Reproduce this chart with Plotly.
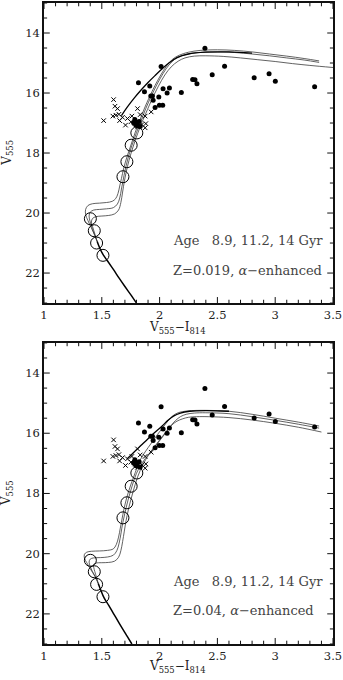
import plotly.graph_objects as go
from plotly.subplots import make_subplots

# ---------------- observed stars (same in both panels) ----------------
dot_x = [2.392, 2.013, 1.817, 1.915, 1.869, 2.030, 2.085, 2.065, 1.924, 1.938, 1.944, 1.993,
         1.998, 2.027, 1.961, 2.188, 2.286, 2.306, 2.323, 2.455, 2.562, 2.818, 2.947, 3.001,
         3.341, 1.786, 1.803, 1.823, 1.812, 1.832, 1.794, 1.775]
dot_v = [14.51, 15.12, 15.66, 15.77, 15.96, 15.86, 15.83, 16.00, 16.10, 16.10, 16.24, 16.13,
         16.41, 16.41, 16.48, 15.98, 15.55, 15.56, 15.69, 15.39, 15.11, 15.49, 15.36, 15.61,
         15.79, 16.88, 16.99, 16.95, 17.10, 17.12, 17.07, 16.99]

cross_x = [1.516, 1.602, 1.614, 1.636, 1.596, 1.622, 1.648, 1.654, 1.679, 1.705, 1.722,
           1.760, 1.809, 1.832, 1.875, 1.927, 1.881, 1.875, 1.752, 1.786, 1.809, 1.847]
cross_v = [16.92, 16.22, 16.44, 16.52, 16.77, 16.74, 16.71, 16.92, 16.81, 17.07, 16.85,
           16.77, 16.52, 16.72, 16.77, 16.63, 17.02, 17.16, 16.96, 17.02, 17.13, 17.05]

circ_x = [1.803, 1.754, 1.717, 1.683, 1.401, 1.435, 1.455, 1.510]
circ_v_top = [17.33, 17.74, 18.29, 18.79, 20.19, 20.59, 21.00, 21.41]
circ_v_bot = [17.32, 17.76, 18.31, 18.81, 20.22, 20.60, 21.02, 21.43]

# ---------------- top panel isochrones: Z=0.019 ----------------
ms1_x = [1.80, 1.75, 1.70, 1.65, 1.60, 1.55, 1.51, 1.48, 1.46]
ms1_v = [23.0, 22.72, 22.45, 22.17, 21.88, 21.60, 21.38, 21.15, 20.95]

t_a_x = [1.46, 1.44, 1.41, 1.38, 1.36, 1.36, 1.38, 1.42, 1.48, 1.54, 1.59, 1.62, 1.64, 1.655,
         1.67, 1.69, 1.72, 1.755, 1.79, 1.83, 1.87, 1.91, 1.96, 2.01, 2.06, 2.11, 2.17, 2.25,
         2.35, 2.5, 2.65, 2.8, 2.95, 3.1, 3.25, 3.38]
t_a_v = [20.95, 20.75, 20.5, 20.25, 20.05, 19.88, 19.75, 19.69, 19.67, 19.65, 19.61, 19.52,
         19.35, 19.1, 18.85, 18.5, 18.1, 17.7, 17.3, 16.9, 16.5, 16.15, 15.75, 15.4, 15.1,
         14.88, 14.74, 14.64, 14.58, 14.56, 14.58, 14.63, 14.70, 14.77, 14.85, 14.93]

t_b_x = [1.46, 1.44, 1.42, 1.40, 1.39, 1.40, 1.43, 1.48, 1.54, 1.60, 1.635, 1.655, 1.67,
         1.685, 1.70, 1.725, 1.76, 1.80, 1.84, 1.88, 1.925, 1.975, 2.03, 2.08, 2.13, 2.19,
         2.27, 2.37, 2.5, 2.65, 2.8, 2.95, 3.1, 3.25, 3.38]
t_b_v = [20.95, 20.75, 20.55, 20.3, 20.1, 19.97, 19.9, 19.88, 19.86, 19.82, 19.7, 19.5, 19.2,
         18.9, 18.6, 18.2, 17.75, 17.32, 16.92, 16.52, 16.12, 15.73, 15.35, 15.07, 14.88,
         14.76, 14.68, 14.64, 14.63, 14.65, 14.70, 14.76, 14.83, 14.90, 14.98]

t_c_x = [1.46, 1.44, 1.42, 1.41, 1.42, 1.45, 1.50, 1.56, 1.61, 1.645, 1.665, 1.68, 1.695,
         1.71, 1.735, 1.77, 1.81, 1.85, 1.895, 1.94, 1.99, 2.045, 2.10, 2.16, 2.22, 2.3, 2.4,
         2.55, 2.7, 2.85, 3.0, 3.15, 3.3, 3.5]
t_c_v = [20.95, 20.7, 20.45, 20.3, 20.18, 20.12, 20.1, 20.08, 20.03, 19.9, 19.65, 19.3,
         18.95, 18.65, 18.25, 17.8, 17.35, 16.95, 16.55, 16.15, 15.77, 15.4, 15.13, 14.94,
         14.83, 14.77, 14.76, 14.78, 14.83, 14.89, 14.95, 15.02, 15.08, 15.15]

t_agb_x = [1.67, 1.72, 1.78, 1.84, 1.90, 1.96, 2.02, 2.08, 2.15, 2.25, 2.4, 2.6, 2.8]
t_agb_v = [16.75, 16.47, 16.17, 15.9, 15.65, 15.42, 15.2, 15.0, 14.82, 14.70, 14.64, 14.63, 14.67]

# ---------------- bottom panel isochrones: Z=0.04 ----------------
ms2_x = [1.76, 1.72, 1.68, 1.64, 1.60, 1.56, 1.52, 1.49, 1.47]
ms2_v = [23.0, 22.75, 22.5, 22.24, 21.98, 21.72, 21.47, 21.2, 21.0]

b_a_x = [1.47, 1.44, 1.40, 1.37, 1.35, 1.35, 1.37, 1.41, 1.48, 1.55, 1.60, 1.625, 1.645,
         1.66, 1.675, 1.69, 1.715, 1.75, 1.79, 1.83, 1.875, 1.93, 1.98, 2.03, 2.075, 2.115,
         2.16, 2.24, 2.4, 2.6, 2.8, 3.0, 3.2, 3.38]
b_a_v = [21.0, 20.75, 20.5, 20.3, 20.15, 20.02, 19.95, 19.92, 19.91, 19.89, 19.84, 19.7,
         19.45, 19.15, 18.85, 18.55, 18.15, 17.72, 17.3, 16.9, 16.62, 16.32, 16.05, 15.8,
         15.58, 15.42, 15.32, 15.26, 15.24, 15.27, 15.37, 15.5, 15.63, 15.76]

b_b_x = [1.47, 1.45, 1.42, 1.40, 1.39, 1.40, 1.43, 1.49, 1.55, 1.60, 1.63, 1.65, 1.665,
         1.68, 1.70, 1.725, 1.76, 1.80, 1.85, 1.905, 1.955, 2.005, 2.05, 2.095, 2.14, 2.18,
         2.23, 2.3, 2.4, 2.6, 2.8, 3.0, 3.2, 3.38]
b_b_v = [21.0, 20.8, 20.6, 20.42, 20.28, 20.18, 20.14, 20.13, 20.11, 20.05, 19.9, 19.65,
         19.35, 19.0, 18.65, 18.25, 17.78, 17.33, 16.98, 16.7, 16.45, 16.2, 15.98, 15.76,
         15.57, 15.45, 15.37, 15.33, 15.32, 15.35, 15.45, 15.57, 15.70, 15.83]

b_c_x = [1.47, 1.455, 1.44, 1.43, 1.43, 1.45, 1.50, 1.56, 1.61, 1.645, 1.665, 1.68, 1.695,
         1.71, 1.735, 1.77, 1.81, 1.855, 1.905, 1.96, 2.01, 2.06, 2.105, 2.15, 2.2, 2.25,
         2.32, 2.42, 2.6, 2.8, 3.0, 3.2, 3.4]
b_c_v = [21.0, 20.8, 20.6, 20.45, 20.35, 20.31, 20.3, 20.29, 20.25, 20.12, 19.9, 19.6,
         19.25, 18.9, 18.45, 17.95, 17.45, 17.05, 16.72, 16.45, 16.2, 15.95, 15.73, 15.6,
         15.52, 15.47, 15.45, 15.45, 15.48, 15.56, 15.67, 15.80, 15.96]

b_agb_x = [1.72, 1.78, 1.84, 1.90, 1.96, 2.02, 2.07, 2.12, 2.18, 2.26, 2.4, 2.6]
b_agb_v = [16.85, 16.62, 16.4, 16.18, 15.97, 15.77, 15.58, 15.43, 15.33, 15.27, 15.25, 15.27]

x_range = [1.0, 3.5]
y_range = [23.0, 13.0]
x_ticks = [1, 1.5, 2, 2.5, 3, 3.5]
x_labels = ["1", "1.5", "2", "2.5", "3", "3.5"]
y_ticks = [14, 16, 18, 20, 22]
y_labels = ["14", "16", "18", "20", "22"]
x_minor_step = 0.1
y_minor_step = 0.5

label_age = "Age   8.9, 11.2, 14 Gyr"
label_z_top = "Z=0.019, <i>α</i>−enhanced"
label_z_bot = "Z=0.04, <i>α</i>−enhanced"

# ---------------- figure ----------------
fig = make_subplots(rows=2, cols=1, vertical_spacing=0.0)

ISO = dict(color="#3a3a3a", width=0.8)
THICK = dict(color="black", width=1.5)

panels = [
    (1, ms1_x, ms1_v, [(t_a_x, t_a_v), (t_b_x, t_b_v), (t_c_x, t_c_v)], (t_agb_x, t_agb_v), circ_v_top),
    (2, ms2_x, ms2_v, [(b_a_x, b_a_v), (b_b_x, b_b_v), (b_c_x, b_c_v)], (b_agb_x, b_agb_v), circ_v_bot),
]

for row, msx, msv, isos, agb, cv in panels:
    for ix, iv in isos:
        fig.add_trace(go.Scatter(x=ix, y=iv, mode="lines", line=ISO, line_shape="spline",
                                 hoverinfo="skip"), row=row, col=1)
    fig.add_trace(go.Scatter(x=agb[0], y=agb[1], mode="lines", line=dict(color="black", width=1.3),
                             line_shape="spline"), row=row, col=1)
    fig.add_trace(go.Scatter(x=msx, y=msv, mode="lines", line=THICK, line_shape="spline"),
                  row=row, col=1)
    fig.add_trace(go.Scatter(x=cross_x, y=cross_v, mode="markers",
                             marker=dict(symbol="x-thin", size=4.5, line=dict(color="black", width=1))),
                  row=row, col=1)
    fig.add_trace(go.Scatter(x=dot_x, y=dot_v, mode="markers",
                             marker=dict(symbol="circle", size=5, color="black")), row=row, col=1)
    fig.add_trace(go.Scatter(x=circ_x, y=cv, mode="markers",
                             marker=dict(symbol="circle-open", size=12, color="black",
                                         line=dict(color="black", width=1))), row=row, col=1)

tickfont = dict(family="DejaVu Serif", size=11.5, color="#222")
base = dict(showgrid=False, zeroline=False, showline=True, linecolor="#111", linewidth=1.5,
            mirror=True, ticks="", tickfont=tickfont)

fig.update_layout(
    width=343, height=680, showlegend=False,
    margin=dict(l=44, r=9, t=1, b=36),
    plot_bgcolor="white", paper_bgcolor="white",
    xaxis=dict(domain=[0, 1], range=x_range, tickvals=x_ticks, ticktext=x_labels,
               ticklabeloverflow="allow", **base),
    yaxis=dict(domain=[0.5319, 1.0], range=y_range, tickvals=y_ticks, ticktext=y_labels, **base),
    xaxis2=dict(domain=[0, 1], range=x_range, tickvals=x_ticks, ticktext=x_labels,
                ticklabeloverflow="allow", **base),
    yaxis2=dict(domain=[0.0, 0.4697], range=y_range, tickvals=y_ticks, ticktext=y_labels, **base),
)

# ticks on all four sides, built from the tick arrays, drawn as line traces
n_xminor = int(round((x_range[1] - x_range[0]) / x_minor_step))
n_yminor = int(round((y_range[0] - y_range[1]) / y_minor_step))
x_minor_vals = [round(x_range[0] + k * x_minor_step, 3) for k in range(n_xminor + 1)]
y_minor_vals = [round(y_range[1] + k * y_minor_step, 3) for k in range(n_yminor + 1)]
TICK_V_MAJOR, TICK_V_MINOR = 0.2, 0.11     # vertical tick lengths, in V units (~6 / 3 px)
TICK_C_MAJOR, TICK_C_MINOR = 0.05, 0.027   # horizontal tick lengths, in colour units (~6 / 3 px)
for row in (1, 2):
    tx, ty = [], []
    for xv in x_minor_vals:
        major = any(abs(xv - t) < 1e-6 for t in x_ticks)
        ln = TICK_V_MAJOR if major else TICK_V_MINOR
        tx += [xv, xv, None, xv, xv, None]
        ty += [y_range[0], y_range[0] - ln, None, y_range[1], y_range[1] + ln, None]
    for yv in y_minor_vals:
        major = any(abs(yv - t) < 1e-6 for t in y_ticks)
        ln = TICK_C_MAJOR if major else TICK_C_MINOR
        tx += [x_range[0], x_range[0] + ln, None, x_range[1], x_range[1] - ln, None]
        ty += [yv, yv, None, yv, yv, None]
    fig.add_trace(go.Scatter(x=tx, y=ty, mode="lines", line=dict(color="#111", width=1),
                             hoverinfo="skip", cliponaxis=False), row=row, col=1)

ann_font = dict(family="DejaVu Serif", size=13, color="#444")
for xr, yr, zl in (("x", "y", label_z_top), ("x2", "y2", label_z_bot)):
    fig.add_annotation(x=2.1, y=20.92, xref=xr, yref=yr, text=label_age, showarrow=False,
                       xanchor="left", yanchor="middle", font=ann_font)
    fig.add_annotation(x=2.1, y=21.9, xref=xr, yref=yr, text=zl, showarrow=False,
                       xanchor="left", yanchor="middle", font=ann_font)

title_font = dict(family="DejaVu Serif", size=12, color="#222")
for py in (327, 667):
    fig.add_annotation(x=(177 - 44) / 290, y=(644 - py) / 643, xref="paper", yref="paper",
                       text="V<sub>555</sub>−I<sub>814</sub>", showarrow=False,
                       xanchor="center", yanchor="middle", font=title_font)
for py in (151, 492.5):
    fig.add_annotation(x=(7 - 44) / 290, y=(644 - py) / 643, xref="paper", yref="paper",
                       text="V<sub>555</sub>", showarrow=False, textangle=-90,
                       xanchor="center", yanchor="middle", font=title_font)

fig.write_html("out.html", config={"displayModeBar": False},
               post_script="document.body.style.margin='0';document.body.style.overflow='hidden';")
